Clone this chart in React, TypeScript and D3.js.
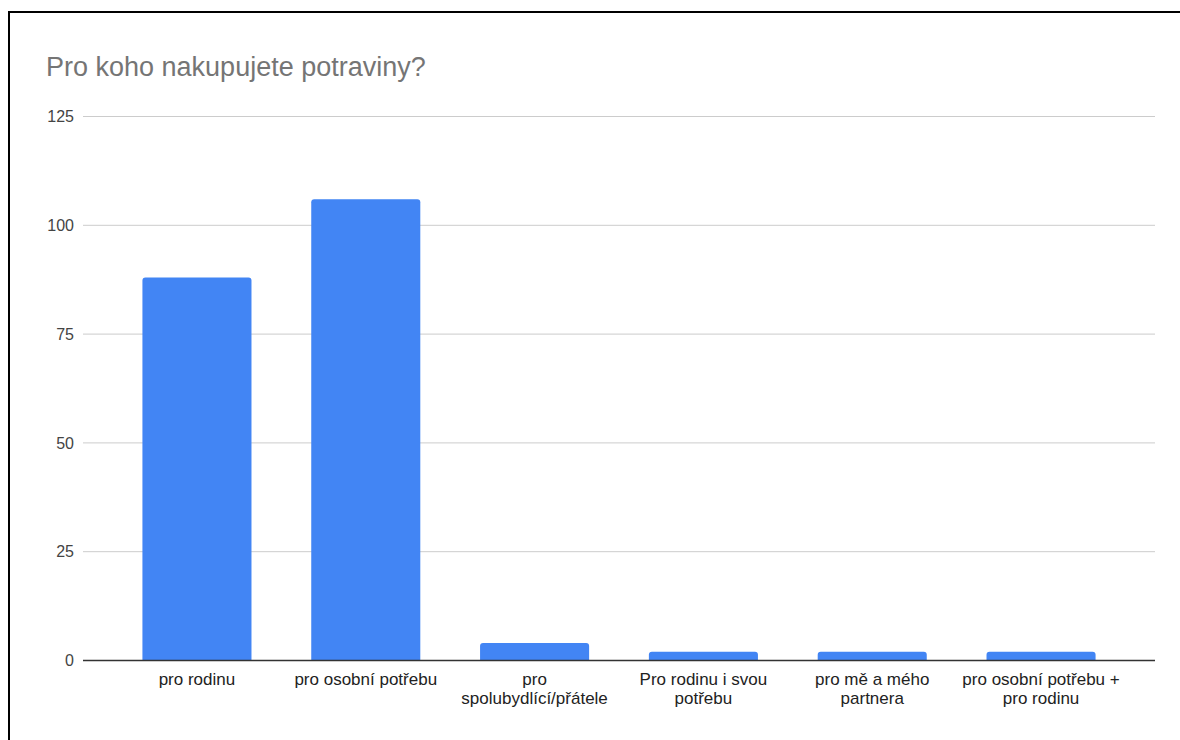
import React from "react";
import * as d3 from "d3";

const title = "Pro koho nakupujete potraviny?";
const categories = [
  "pro rodinu",
  "pro osobní potřebu",
  "pro\nspolubydlící/přátele",
  "Pro rodinu i svou\npotřebu",
  "pro mě a mého\npartnera",
  "pro osobní potřebu +\npro rodinu",
];
const values = [88, 106, 4, 2, 2, 2];
const yTicks = [0, 25, 50, 75, 100, 125];

const W = 1180;
const H = 740;
const left = 83;
const right = 1155;
const top = 116.5;
const bottom = 660.5;
const font = "'Liberation Sans', Arial, sans-serif";

function topRoundedBar(x: number, y: number, w: number, h: number, r: number) {
  const rr = Math.min(r, h, w / 2);
  return `M${x},${y + h}V${y + rr}Q${x},${y} ${x + rr},${y}H${x + w - rr}Q${x + w},${y} ${x + w},${y + rr}V${y + h}Z`;
}

export default function App() {
  const x = d3
    .scaleBand<string>()
    .domain(categories)
    .range([left, right])
    .paddingInner(0.354)
    .paddingOuter(0.352);
  const y = d3.scaleLinear().domain([0, 125]).range([bottom, top]);

  return (
    <svg
      width={W}
      height={H}
      style={{ position: "fixed", left: 0, top: 0, background: "#fff" }}
    >
      <rect x={0} y={0} width={W} height={H} fill="#fff" />
      <rect x={9} y={12} width={W + 20} height={H + 20} fill="none" stroke="#000" strokeWidth={2} />
      <text x={46} y={76} fontFamily={font} fontSize={27} fill="#757575">
        {title}
      </text>
      {yTicks.map((t) => (
        <g key={t}>
          {t !== 0 && (
            <line x1={left} x2={right} y1={y(t)} y2={y(t)} stroke="#cccccc" strokeWidth={1} />
          )}
          <text
            x={74}
            y={y(t)}
            dy="0.36em"
            textAnchor="end"
            fontFamily={font}
            fontSize={16}
            fill="#444"
          >
            {t}
          </text>
        </g>
      ))}
      {categories.map((c, i) => {
        const bx = x(c)!;
        const by = y(values[i]);
        return (
          <path
            key={c}
            d={topRoundedBar(bx, by, x.bandwidth(), bottom - by, 3)}
            fill="#4285f4"
          />
        );
      })}
      <line x1={left} x2={right} y1={bottom} y2={bottom} stroke="#333" strokeWidth={1.5} />
      {categories.map((c) => {
        const cx = x(c)! + x.bandwidth() / 2;
        const lines = c.split("\n");
        return (
          <text
            key={c}
            textAnchor="middle"
            fontFamily={font}
            fontSize={17}
            fill="#222"
          >
            {lines.map((l, j) => (
              <tspan key={j} x={cx} y={685 + j * 18.5}>
                {l}
              </tspan>
            ))}
          </text>
        );
      })}
    </svg>
  );
}
